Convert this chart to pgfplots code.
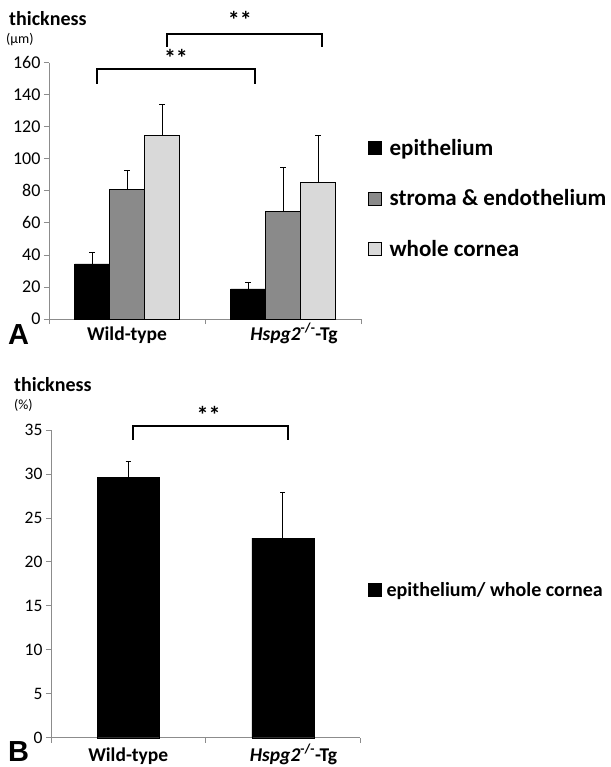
\documentclass[border=0pt]{standalone}
\usepackage{fontspec}
\setmainfont{Carlito}
\newfontfamily\panelfont{Liberation Sans}
\usepackage{pgfplots}
\pgfplotsset{compat=1.18}
\definecolor{stroma}{HTML}{8A8A8A}
\definecolor{whole}{HTML}{D9D9D9}
\definecolor{axgray}{HTML}{8C8C8C}
\pgfplotsset{
  eb/.style={error bars/.cd, y dir=plus, y explicit,
    error bar style={black, line width=0.7pt},
    error mark options={black, rotate=90, mark size=2.7pt, line width=0.7pt}},
  common/.style={
    scale only axis, xmin=-0.5, xmax=1.5, ymin=0,
    ybar=0pt,
    axis x line*=bottom, axis y line*=left,
    axis line style={axgray, line width=0.8pt},
    tick style={axgray, line width=0.8pt},
    tick align=outside,
    major tick length=5pt,
    xtick={-0.5,0.5,1.5}, xticklabels={},
    extra x ticks={0,1.07},
    extra x tick labels={Wild-type, \textit{Hspg2}\textsuperscript{-/-}-Tg},
    /pgf/number format/assume math mode=true,
    clip=false,
    legend image code/.code={\draw[#1, draw=black, line width=0.4pt] (0pt,-6.5pt) rectangle (13pt,6.5pt);},
    legend cell align=left,
  }
}
\begin{document}
\begin{tikzpicture}[x=1pt,y=1pt]
\path[use as bounding box] (0,0) rectangle (610,-767);

% ---------- Panel A ----------
\begin{axis}[common,
  at={(49pt,-319pt)}, anchor=south west,
  width=312pt, height=256.3pt, ymax=160,
  bar width=35pt,
  extra x tick style={major tick length=0pt, tick label style={font=\fontsize{19.5}{22}\selectfont\bfseries, anchor=base, yshift=-21pt}},
  ytick={0,20,...,160},
  yticklabel style={font=\fontsize{18}{20}\selectfont},
  legend style={at={(1.0224,0.47)}, anchor=west, draw=none, fill=none,
    font=\fontsize{23}{26}\selectfont\bfseries, row sep=29pt, inner sep=0pt,
    /tikz/every odd column/.append style={column sep=6pt}},
]
\addplot[fill=black, draw=black, eb] coordinates {(0,34.4) +- (0,7.0) (1,18.8) +- (0,3.9)};
\addlegendentry{epithelium}
\addplot[fill=stroma, draw=black, eb] coordinates {(0,81) +- (0,12) (1,67) +- (0,27.8)};
\addlegendentry{stroma \& endothelium}
\addplot[fill=whole, draw=black, eb] coordinates {(0,114.8) +- (0,19.2) (1,85.4) +- (0,29.4)};
\addlegendentry{whole cornea}
\draw[black, line width=1.9pt] (axis cs:-0.194,146.9) -- (axis cs:-0.194,155.8) -- (axis cs:0.822,155.8) -- (axis cs:0.822,146.9);
\node[anchor=base, inner sep=0pt, font=\fontsize{24}{26}\selectfont\bfseries] at (axis cs:0.314,157.5) {**};
\draw[black, line width=1.9pt] (axis cs:0.254,170) -- (axis cs:0.254,178) -- (axis cs:1.25,178) -- (axis cs:1.25,170);
\node[anchor=base, inner sep=0pt, font=\fontsize{24}{26}\selectfont\bfseries] at (axis cs:0.724,181.5) {**};
\end{axis}
\node[anchor=west, inner sep=0pt, font=\fontsize{20}{22}\selectfont\bfseries] at (9,-19) {thickness};
\node[anchor=west, inner sep=0pt, font=\fontsize{14}{16}\selectfont] at (6,-40) {(μm)};
\node[font=\panelfont\fontsize{29}{32}\selectfont\bfseries] at (18.5,-335) {A};

% ---------- Panel B ----------
\begin{axis}[common,
  at={(51pt,-737.7pt)}, anchor=south west,
  width=309pt, height=307.7pt, ymax=35,
  bar width=62pt,
  extra x tick style={major tick length=0pt, tick label style={font=\fontsize{19.5}{22}\selectfont\bfseries, anchor=base, yshift=-23.5pt}},
  ytick={0,5,...,35},
  yticklabel style={font=\fontsize{17.5}{20}\selectfont},
  legend style={at={(1.026,0.48)}, anchor=west, draw=none, fill=none,
    font=\fontsize{20}{24}\selectfont\bfseries, inner sep=0pt,
    /tikz/every odd column/.append style={column sep=3pt}},
]
\addplot[fill=black, draw=black, eb] coordinates {(0,29.6) +- (0,1.8) (1,22.7) +- (0,5.2)};
\addlegendentry{epithelium/ whole cornea}
\draw[black, line width=1.9pt] (axis cs:0.029,33.87) -- (axis cs:0.029,35.5) -- (axis cs:1.032,35.5) -- (axis cs:1.032,33.87);
\node[anchor=base, inner sep=0pt, font=\fontsize{24}{26}\selectfont\bfseries] at (axis cs:0.52,35.7) {**};
\end{axis}
\node[anchor=west, inner sep=0pt, font=\fontsize{20}{22}\selectfont\bfseries] at (14,-385) {thickness};
\node[anchor=west, inner sep=0pt, font=\fontsize{14}{16}\selectfont] at (14,-405) {(\%)};
\node[font=\panelfont\fontsize{29}{32}\selectfont\bfseries] at (18.5,-752) {B};
\end{tikzpicture}
\end{document}
